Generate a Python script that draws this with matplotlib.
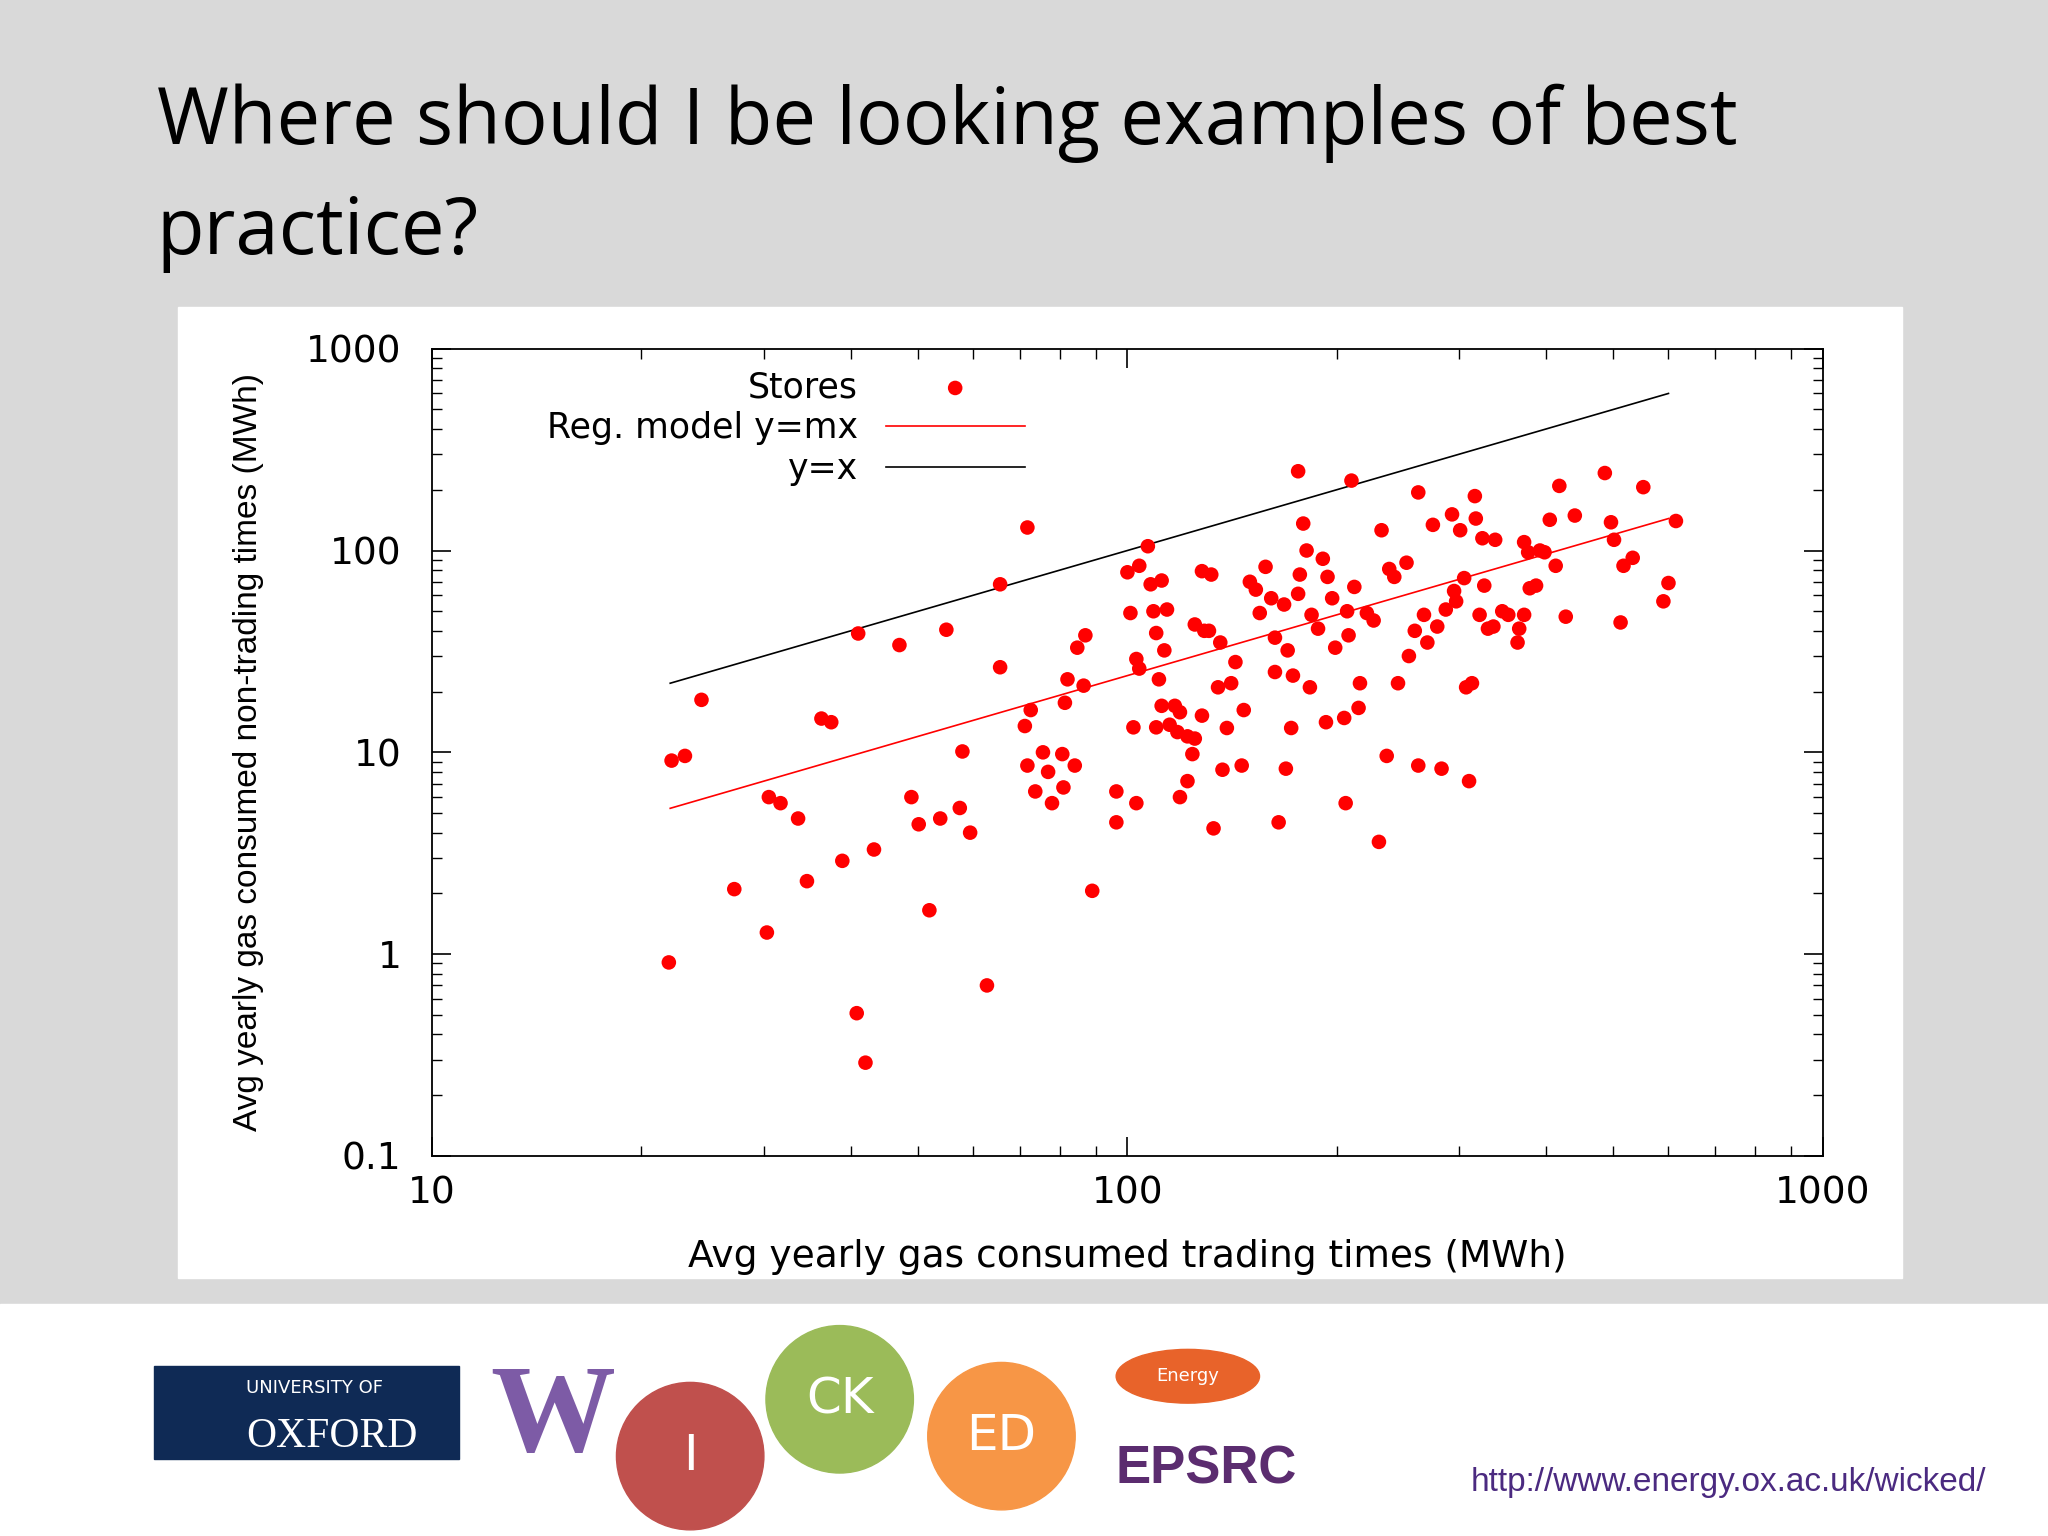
import matplotlib
matplotlib.use("Agg")
import matplotlib.pyplot as plt
from matplotlib.patches import Rectangle, Ellipse
from matplotlib.ticker import LogLocator, NullFormatter, FixedLocator, FixedFormatter

# store readings (MWh): trading times vs non-trading times
gas_trading = [21.9, 22.1, 23.1, 24.4, 27.2, 30.3, 30.5, 31.7, 33.6, 34.6, 36.3, 37.5,
               38.9, 40.8, 41.0, 42.0, 43.2, 47.0, 48.9, 50.1, 51.9, 53.8, 54.9, 57.4,
               57.9, 59.4, 62.8, 65.6, 65.6, 71.8, 71.2, 72.6, 71.8, 73.7, 75.6, 76.9,
               77.9, 80.6, 80.9, 82, 81.3, 84, 84.7, 87, 86.5, 89, 96.4, 96.4, 100, 101,
               102, 103, 103, 104, 104, 107, 108, 109, 110, 110, 111, 112, 112, 113, 114,
               115, 117, 118, 119, 119, 122, 122, 124, 125, 125, 128, 128, 129, 131, 132,
               133, 135, 136, 137, 139, 141, 143, 146, 147, 150, 153, 155, 158, 161, 163,
               165, 163, 168, 169, 170, 172, 173, 176, 176, 177, 179, 181, 183, 184, 188,
               191, 193, 194, 197, 199, 205, 206, 207, 208, 210, 212, 215, 216, 221, 226,
               230, 232, 236, 238, 242, 245, 252, 254, 259, 262, 262, 267, 270, 275, 279,
               283, 287, 293, 295, 297, 301, 305, 307, 310, 313, 316, 317, 321, 324, 326,
               330, 336, 338, 346, 353, 364, 366, 372, 372, 377, 379, 387, 392, 398, 405,
               413, 418, 427, 440, 486, 496, 501, 512, 517, 533, 552, 590, 600, 615]
gas_nontrading = [0.91, 9.1, 9.6, 18.2, 2.1, 1.28, 6.0, 5.6, 4.7, 2.3, 14.7, 14.1,
                  2.9, 0.51, 38.8, 0.29, 3.3, 34, 6.0, 4.4, 1.65, 4.7, 40.5, 5.3,
                  10.1, 4.0, 0.70, 26.4, 68, 130, 13.5, 16.2, 8.6, 6.4, 10, 8.0,
                  5.6, 9.8, 6.7, 23, 17.6, 8.6, 33, 38, 21.4, 2.06, 6.4, 4.5, 78, 49,
                  13.3, 5.6, 29, 26, 84, 105, 68, 50, 39, 13.3, 23, 17, 71, 32, 51,
                  13.7, 17, 12.6, 6, 15.8, 12, 7.2, 9.8, 11.7, 43, 79, 15.2, 40, 40, 76,
                  4.2, 21, 35, 8.2, 13.2, 22, 28, 8.6, 16.2, 70, 64, 49, 83, 58, 37,
                  4.5, 25, 54, 8.3, 32, 13.2, 24, 247, 61, 76, 136, 100, 21, 48, 41,
                  91, 14.1, 74, 58, 33, 14.8, 5.6, 50, 38, 222, 66, 16.6, 22, 49, 45,
                  3.6, 126, 9.6, 81, 74, 22, 87, 30, 40, 194, 8.6, 48, 35, 134, 42,
                  8.3, 51, 151, 63, 56, 126, 73, 21, 7.2, 22, 186, 144, 48, 115, 67,
                  41, 42, 113, 50, 48, 35, 41, 48, 110, 98, 65, 67, 100, 98, 142,
                  84, 209, 47, 149, 242, 138, 113, 44, 84, 92, 206, 56, 69, 140]
line_x = [22, 600]
slope_m = 0.24

fig = plt.figure(figsize=(20.48, 15.36), dpi=100)
fig.patch.set_facecolor("#d9d9d9")

# white strips
fig.add_artist(Rectangle((0, 0), 1, 0.151, transform=fig.transFigure, color="white", zorder=0))
fig.add_artist(Rectangle((0.0867, 0.168), 0.842, 0.632, transform=fig.transFigure,
                         color="white", zorder=0))

fig.text(0.0765, 0.92, "Where should I be looking examples of best", fontsize=56,
         va="center", ha="left", family="Open Sans")
fig.text(0.0765, 0.848, "practice?", fontsize=56, va="center", ha="left", family="Open Sans")

ax = fig.add_axes([0.211, 0.2474, 0.679, 0.5256])
ax.set_xscale("log")
ax.set_yscale("log")
ax.set_xlim(10, 1000)
ax.set_ylim(0.1, 1000)

ax.scatter(gas_trading, gas_nontrading, s=110, color="#ff0000", edgecolors="none",
           label="Stores", zorder=3)
ax.plot(line_x, [slope_m * v for v in line_x], color="#ff0000", lw=1.2,
        label="Reg. model y=mx")
ax.plot(line_x, line_x, color="black", lw=1.2, label="y=x")

ax.xaxis.set_major_locator(FixedLocator([10, 100, 1000]))
ax.xaxis.set_major_formatter(FixedFormatter(["10", "100", "1000"]))
ax.yaxis.set_major_locator(FixedLocator([0.1, 1, 10, 100, 1000]))
ax.yaxis.set_major_formatter(FixedFormatter(["0.1", "1", "10", "100", "1000"]))
for a in (ax.xaxis, ax.yaxis):
    a.set_minor_locator(LogLocator(base=10, subs=range(2, 10)))
    a.set_minor_formatter(NullFormatter())
ax.tick_params(which="both", direction="in", top=True, right=True, labelsize=27)
ax.tick_params(which="major", length=14, width=1.2)
ax.tick_params(which="minor", length=7, width=1)
ax.tick_params(axis="x", pad=14)
ax.tick_params(axis="y", pad=22)
for s in ax.spines.values():
    s.set_linewidth(1.3)

ax.set_xlabel("Avg yearly gas consumed trading times (MWh)", fontsize=27, labelpad=20)
ax.set_ylabel("Avg yearly gas consumed non-trading times (MWh)", fontsize=24,
              labelpad=30, family="Liberation Sans")

leg = ax.legend(loc="upper left", bbox_to_anchor=(0.07, 0.995), frameon=False,
                fontsize=25, markerfirst=False, handlelength=4.0, labelspacing=0.2,
                borderaxespad=0.1, handletextpad=0.8)
leg._legend_box.align = "right"

# footer logos (approximate)
fig.add_artist(Rectangle((0.075, 0.05), 0.149, 0.061, transform=fig.transFigure,
                         color="#0f2a55"))
fig.text(0.12, 0.093, "UNIVERSITY OF", color="white", fontsize=13, family="DejaVu Sans")
fig.text(0.12, 0.058, "OXFORD", color="white", fontsize=30, family="Liberation Serif")
fig.text(0.27, 0.075, "W", color="#7d5ba6", fontsize=90, family="Liberation Serif",
         weight="bold", ha="center", va="center")
for cx, cy, r, col, lab in [(0.337, 0.052, 0.036, "#c0504d", "I"),
                            (0.41, 0.089, 0.036, "#9bbb59", "CK"),
                            (0.489, 0.065, 0.036, "#f79646", "ED")]:
    fig.add_artist(Ellipse((cx, cy), 2 * r, 2 * r * 4 / 3, transform=fig.transFigure,
                           color=col))
    fig.text(cx, cy, lab, color="white", fontsize=36, ha="center", va="center")
fig.add_artist(Ellipse((0.58, 0.104), 0.07, 0.035, transform=fig.transFigure, color="#e8632a"))
fig.text(0.58, 0.104, "Energy", color="white", fontsize=13, ha="center", va="center")
fig.text(0.589, 0.043, "EPSRC", color="#5b2c6f", fontsize=38, weight="bold",
         ha="center", va="center", family="Liberation Sans")
fig.text(0.97, 0.035, "http://www.energy.ox.ac.uk/wicked/", color="#4b2a80",
         fontsize=24, ha="right", va="center", family="Liberation Sans")

fig.savefig("out.png", dpi=100, facecolor=fig.get_facecolor())
